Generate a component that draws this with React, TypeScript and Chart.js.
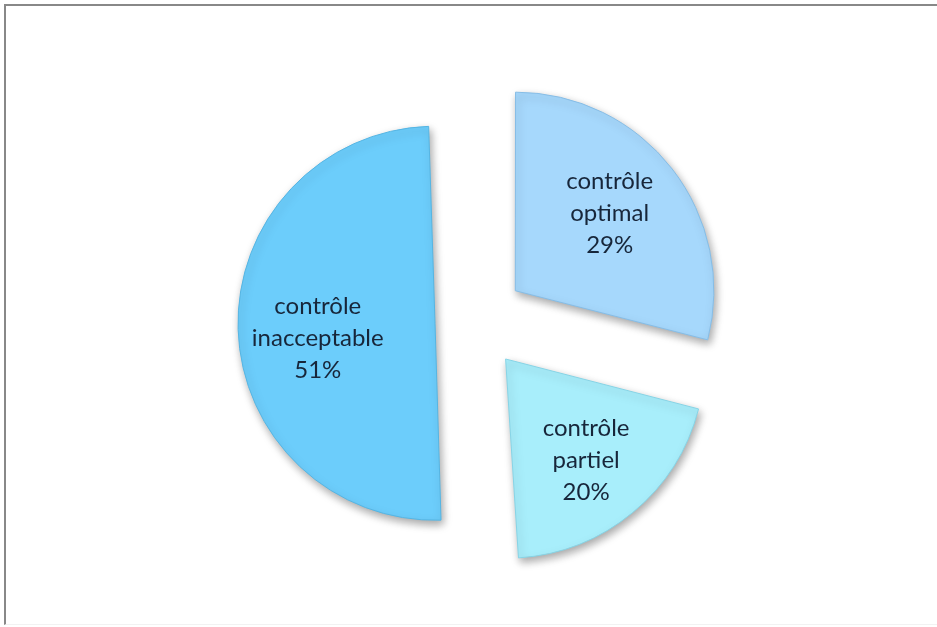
import React, { useEffect, useRef } from "react";
import { Chart, registerables } from "chart.js";

Chart.register(...registerables);

// ---- data ----
const categories = ["contrôle optimal", "contrôle partiel", "contrôle inacceptable"];
const values = [29, 20, 51];

// ---- styles ----
const sliceColors = ["#a6d8fc", "#a8eefb", "#6ccdfb"];
const sliceBorders = ["#86bde6", "#86d4e6", "#55b5e3"];
const sliceOffsets = [204, 192, 160];
const labelRadiusFactor = [0.62, 0.655, 0.6];
const labelAngleShiftDeg = [-1.6, 1.0, -5.5];

const explodeFix = {
  id: "explodeFix",
  beforeDatasetDraw(chart: any, args: any) {
    const ctx = chart.ctx;
    ctx.save();
    ctx.shadowColor = "rgba(0,0,0,0.35)";
    ctx.shadowBlur = 8;
    ctx.shadowOffsetX = 2;
    ctx.shadowOffsetY = 4;
    args.meta.data.forEach((arc: any) => {
      const off = (arc.options.offset || 0) / 4;
      if (arc.circumference > Math.PI) {
        arc._savedR = arc.outerRadius;
        arc.outerRadius = arc.outerRadius - off;
      }
    });
  },
  afterDatasetDraw(chart: any, args: any) {
    chart.ctx.restore();
    args.meta.data.forEach((arc: any) => {
      if (arc._savedR !== undefined) {
        arc.outerRadius = arc._savedR;
        delete arc._savedR;
      }
    });
  },
};

const sliceLabels = {
  id: "sliceLabels",
  afterDatasetsDraw(chart: any) {
    const ctx = chart.ctx;
    const meta = chart.getDatasetMeta(0);
    const total = values.reduce((a, b) => a + b, 0);
    ctx.save();
    ctx.font = '24px Lato, "Open Sans", sans-serif';
    ctx.fillStyle = "#17263a";
    ctx.textAlign = "center";
    ctx.textBaseline = "middle";
    meta.data.forEach((arc: any, i: number) => {
      const off = (arc.options.offset || 0) / 4;
      const mid = (arc.startAngle + arc.endAngle) / 2;
      const la = mid + (labelAngleShiftDeg[i] * Math.PI) / 180;
      const r = arc.outerRadius * labelRadiusFactor[i];
      const cx = arc.x + Math.cos(mid) * off + Math.cos(la) * r;
      const cy = arc.y + Math.sin(mid) * off + Math.sin(la) * r;
      const parts = categories[i].split(" ");
      const lines = [parts[0], parts.slice(1).join(" "), Math.round((values[i] / total) * 100) + "%"];
      const lh = 32;
      lines.forEach((t, k) => {
        ctx.fillText(t, cx, cy + (k - 1) * lh);
      });
    });
    ctx.restore();
  },
};

export default function App() {
  const ref = useRef<HTMLCanvasElement | null>(null);
  useEffect(() => {
    if (!ref.current) return;
    const chart = new Chart(ref.current, {
      type: "pie",
      data: {
        labels: categories,
        datasets: [
          {
            data: values,
            backgroundColor: sliceColors,
            borderColor: sliceBorders,
            borderWidth: 1,
            offset: sliceOffsets,
          },
        ],
      },
      options: {
        animation: false,
        responsive: true,
        maintainAspectRatio: false,
        radius: 197,
        layout: { padding: { left: 13, top: 17 } },
        plugins: {
          legend: { display: false },
          tooltip: { enabled: false },
        },
        events: [],
      } as any,
      plugins: [explodeFix, sliceLabels],
    });
    return () => chart.destroy();
  }, []);

  return (
    <div style={{ position: "fixed", left: 0, top: 0, width: 937, height: 627, background: "#fff", overflow: "hidden" }}>
      <div
        style={{
          position: "absolute",
          left: 4,
          top: 4,
          width: 940,
          height: 621,
          borderTop: "2px solid #888",
          borderLeft: "2px solid #888",
          borderBottom: "1px solid #f2f2f2",
          boxSizing: "border-box",
        }}
      />
      <canvas ref={ref} style={{ position: "absolute", left: 0, top: 0 }} />
    </div>
  );
}
